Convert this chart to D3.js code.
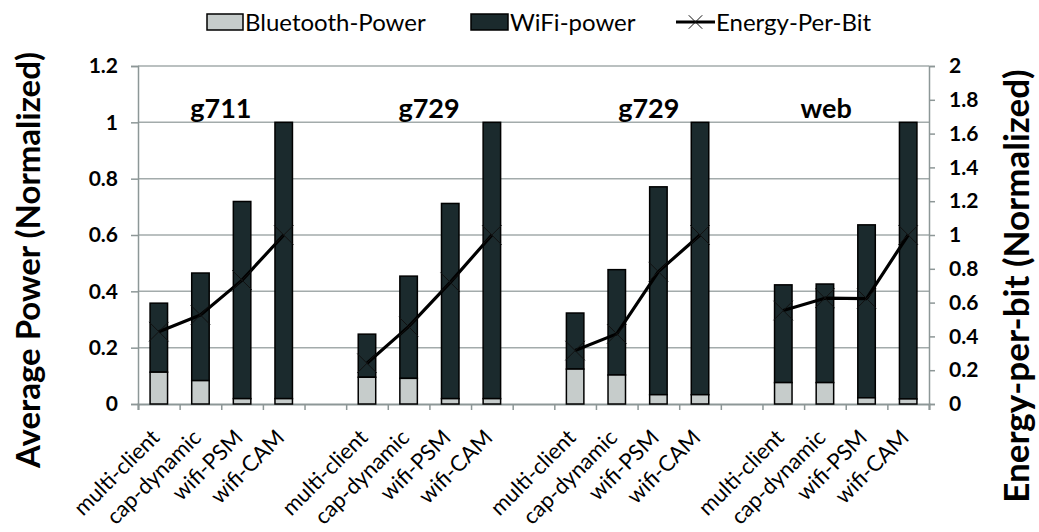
<!DOCTYPE html>
<html>
<head>
<meta charset="utf-8">
<script src="https://cdn.jsdelivr.net/npm/d3@7"></script>
<style>
  html, body { margin: 0; padding: 0; background: #fff; }
  svg { display: block; }
  text { font-family: Lato, "Open Sans", sans-serif; fill: #000; }
</style>
</head>
<body>
<svg id="chart" width="1039" height="532"></svg>
<script>
// Workload groups and radio configurations
const groups = ["g711", "g729", "g729", "web"];
const configs = ["multi-client", "cap-dynamic", "wifi-PSM", "wifi-CAM"];

// Normalized average power, split into Bluetooth and WiFi parts (per group, per config)
const bluetoothPower = [
  [0.113, 0.083, 0.019, 0.019],
  [0.095, 0.091, 0.019, 0.019],
  [0.124, 0.103, 0.033, 0.033],
  [0.076, 0.076, 0.022, 0.018]
];
const wifiPower = [
  [0.245, 0.382, 0.700, 0.981],
  [0.153, 0.363, 0.693, 0.981],
  [0.199, 0.374, 0.738, 0.967],
  [0.347, 0.350, 0.614, 0.982]
];
// Normalized energy per bit (right axis)
const energyPerBit = [
  [0.428, 0.527, 0.733, 1.0],
  [0.241, 0.458, 0.720, 1.0],
  [0.316, 0.415, 0.783, 1.0],
  [0.553, 0.626, 0.624, 1.0]
];

const leftTicks = [0, 0.2, 0.4, 0.6, 0.8, 1, 1.2];
const rightTicks = [0, 0.2, 0.4, 0.6, 0.8, 1, 1.2, 1.4, 1.6, 1.8, 2];
const legendItems = ["Bluetooth-Power", "WiFi-power", "Energy-Per-Bit"];
// Where each group title sits, in slot units along the category axis
const groupLabelPos = [1.99, 6.99, 12.27, 16.53];

const colors = { bt: "#c6cccb", wifi: "#1b2a2d", grid: "#a3abab", axis: "#8d9797" };

const svg = d3.select("#chart");
const plotLeft = 138, plotRight = 929, plotTop = 66, plotBottom = 404;

// Category slots: four bars per group with one empty slot between groups
const slots = [];
groups.forEach((g, gi) => {
  configs.forEach(c => slots.push(gi + "|" + c));
  if (gi < groups.length - 1) slots.push("gap" + gi);
});

const x = d3.scaleBand().domain(slots).range([plotLeft, plotRight])
  .paddingInner(0.58).paddingOuter(0.29);
const xs = d3.scaleLinear().domain([0, slots.length]).range([plotLeft, plotRight]);
const y = d3.scaleLinear().domain([0, 1.2]).range([plotBottom, plotTop]);
const y2 = d3.scaleLinear().domain([0, 2]).range([plotBottom, plotTop]);

// Gridlines
svg.append("g")
  .selectAll("line").data(leftTicks.filter(d => d > 0)).join("line")
  .attr("x1", plotLeft).attr("x2", plotRight)
  .attr("y1", d => y(d)).attr("y2", d => y(d))
  .attr("stroke", colors.grid).attr("stroke-width", 1.5);

// Left axis
const gL = svg.append("g").attr("transform", `translate(${plotLeft},0)`)
  .call(d3.axisLeft(y).tickValues(leftTicks).tickFormat(d3.format("~g")).tickSize(7).tickPadding(13));
gL.select(".domain").attr("stroke", colors.axis).attr("stroke-width", 1.5);
gL.selectAll(".tick line").attr("stroke", colors.axis).attr("stroke-width", 1.5);
gL.selectAll(".tick text").attr("font-size", 21).attr("font-weight", 700)
  .attr("font-family", "Lato, sans-serif").attr("fill", "#000");

// Right axis
const gR = svg.append("g").attr("transform", `translate(${plotRight},0)`)
  .call(d3.axisRight(y2).tickValues(rightTicks).tickFormat(d3.format("~g")).tickSize(6).tickPadding(14));
gR.select(".domain").attr("stroke", colors.axis).attr("stroke-width", 1.5);
gR.selectAll(".tick line").attr("stroke", colors.axis).attr("stroke-width", 1.5);
gR.selectAll(".tick text").attr("font-size", 21).attr("font-weight", 700)
  .attr("font-family", "Lato, sans-serif").attr("fill", "#000");

// Bottom axis: ticks at slot boundaries
const gB = svg.append("g").attr("transform", `translate(0,${plotBottom})`)
  .call(d3.axisBottom(xs).tickValues(d3.range(slots.length + 1)).tickFormat("").tickSize(6));
gB.select(".domain").attr("stroke", colors.axis).attr("stroke-width", 2);
gB.selectAll(".tick line").attr("stroke", colors.axis).attr("stroke-width", 1.5);

// Stacked bars
const bars = [];
groups.forEach((g, gi) => configs.forEach((c, ci) => {
  bars.push({ key: gi + "|" + c, bt: bluetoothPower[gi][ci], wifi: wifiPower[gi][ci] });
}));
const gBars = svg.append("g");
gBars.selectAll("rect.wifi").data(bars).join("rect").attr("class", "wifi")
  .attr("x", d => x(d.key)).attr("width", x.bandwidth())
  .attr("y", d => y(d.bt + d.wifi)).attr("height", d => y(d.bt) - y(d.bt + d.wifi))
  .attr("fill", colors.wifi).attr("stroke", "#000").attr("stroke-width", 1.5);
gBars.selectAll("rect.bt").data(bars).join("rect").attr("class", "bt")
  .attr("x", d => x(d.key)).attr("width", x.bandwidth())
  .attr("y", d => y(d.bt)).attr("height", d => y(0) - y(d.bt))
  .attr("fill", colors.bt).attr("stroke", "#000").attr("stroke-width", 1.5);

// Energy-per-bit line, one segment per group
const cx = key => x(key) + x.bandwidth() / 2;
const line = d3.line().x(d => cx(d.key)).y(d => y2(d.v));
const marker = d3.symbol(d3.symbolX, 250);
groups.forEach((g, gi) => {
  const pts = configs.map((c, ci) => ({ key: gi + "|" + c, v: energyPerBit[gi][ci] }));
  svg.append("path").datum(pts).attr("d", line)
    .attr("fill", "none").attr("stroke", "#000").attr("stroke-width", 3.2)
    .attr("stroke-linejoin", "round");
  svg.append("g").selectAll("path").data(pts).join("path")
    .attr("d", marker).attr("transform", d => `translate(${cx(d.key)},${y2(d.v)})`)
    .attr("fill", "none").attr("stroke", "#111").attr("stroke-width", 1);
});

// Group titles
svg.append("g").selectAll("text").data(groups).join("text")
  .attr("x", (d, i) => xs(groupLabelPos[i])).attr("y", 118)
  .attr("text-anchor", "middle").attr("font-size", 27).attr("font-weight", 700)
  .text(d => d);

// Category labels, rotated
svg.append("g").selectAll("text").data(bars).join("text")
  .attr("transform", d => `translate(${cx(d.key) + 2},${439}) rotate(-45)`)
  .attr("text-anchor", "end").attr("font-size", 22)
  .text(d => d.key.split("|")[1]);

// Axis titles
svg.append("text")
  .attr("transform", `translate(40,260) rotate(-90)`)
  .attr("text-anchor", "middle").attr("font-size", 33).attr("font-weight", 700)
  .text("Average Power (Normalized)");
svg.append("text")
  .attr("transform", `translate(1029,286) rotate(-90)`)
  .attr("text-anchor", "middle").attr("font-size", 35).attr("font-weight", 700)
  .text("Energy-per-bit (Normalized)");

// Legend
const lg = svg.append("g");
lg.append("rect").attr("x", 207).attr("y", 14).attr("width", 36).attr("height", 16)
  .attr("fill", colors.bt).attr("stroke", "#000").attr("stroke-width", 1.5);
lg.append("text").attr("x", 245).attr("y", 31).attr("font-size", 24).text(legendItems[0]);
lg.append("rect").attr("x", 471).attr("y", 14).attr("width", 37).attr("height", 16)
  .attr("fill", colors.wifi).attr("stroke", "#000").attr("stroke-width", 1.5);
lg.append("text").attr("x", 510).attr("y", 31).attr("font-size", 24).text(legendItems[1]);
lg.append("line").attr("x1", 676).attr("x2", 715).attr("y1", 22).attr("y2", 22)
  .attr("stroke", "#000").attr("stroke-width", 3.2);
lg.append("path").attr("d", d3.symbol(d3.symbolX, 120)).attr("transform", "translate(695.5,22)")
  .attr("fill", "none").attr("stroke", "#111").attr("stroke-width", 1);
lg.append("text").attr("x", 716).attr("y", 31).attr("font-size", 24).text(legendItems[2]);
</script>
</body>
</html>
